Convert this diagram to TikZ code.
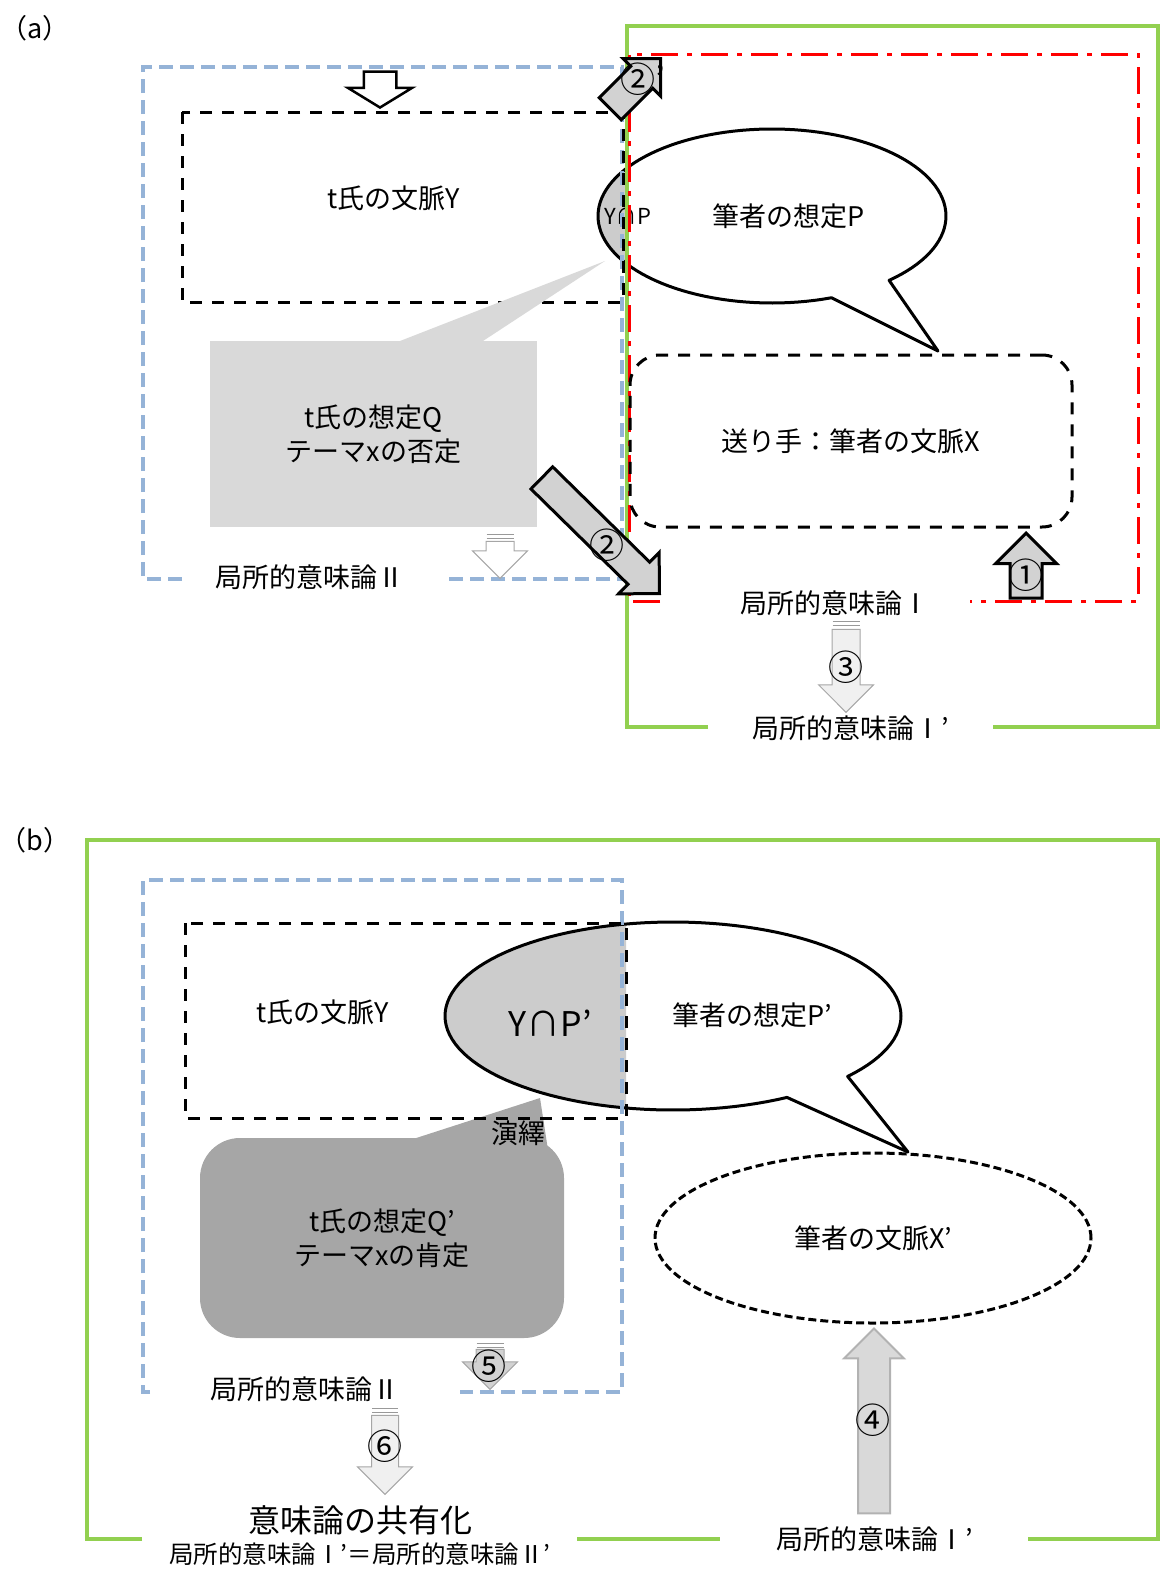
\documentclass[tikz,border=0pt]{standalone}
\usepackage{fontspec}
\setmainfont{Noto Sans CJK JP}
\usetikzlibrary{shapes, arrows}
\definecolor{lgreen}{HTML}{92D050}
\definecolor{lblue}{HTML}{95B3D7}
\definecolor{lgray}{HTML}{D9D9D9}
\definecolor{mgray}{HTML}{A6A6A6}
\tikzset{
  txt/.style={font=\fontsize{27}{34}\selectfont, inner sep=0pt, align=center},
  num/.style={font=\fontsize{35}{35}\selectfont, inner sep=0pt},
  greenframe/.style={draw=lgreen, line width=4pt},
  redframe/.style={draw=red, line width=3pt, dash pattern=on 27pt off 9pt on 5pt off 9pt},
  blueframe/.style={draw=lblue, line width=4.5pt, dash pattern=on 14pt off 7pt},
  ctxbox/.style={draw, line width=3pt, dash pattern=on 12pt off 10pt},
  bubble/.style={draw, line width=3pt, line join=round},
  qbox/.style={txt, fill=lgray, minimum width=327pt, minimum height=186pt},
  barrow/.style={single arrow, draw, inner xsep=0pt, single arrow head indent=0pt, anchor=tip},
  karrow/.style={barrow, fill=gray!35, line width=3pt},
  warrow/.style={barrow, fill=white, draw=gray!70, line width=1pt},
  parrow/.style={barrow, fill=gray!12, draw=gray!70, line width=1pt},
  stripe/.style={draw=gray!80, line width=1pt},
}
\begin{document}
\begin{tikzpicture}[x=1pt, y=-1pt]
\useasboundingbox (0,0) rectangle (1161,1569);

% ===== (a) =====
\node[txt] (lbla) at (35,28) {（a）};

% bubble P with the shared part
\fill[white] plot[domain=70:407.7, samples=120] ({772+174*cos(\x)},{216+87*sin(\x)}) -- (938,351) -- cycle;
\begin{scope}
  \clip (590,120) rectangle (626,320);
  \fill[gray!40] plot[domain=0:360, samples=120] ({772+174*cos(\x)},{216+87*sin(\x)}) -- cycle;
\end{scope}
\draw[bubble] plot[domain=70:407.7, samples=120] ({772+174*cos(\x)},{216+87*sin(\x)}) -- (938,351) -- cycle;
\node[txt] (assP) at (789,216) {筆者の想定P};
\node[txt, font=\fontsize{22}{26}\selectfont] (capa) at (628,216) {Y∩P};

% frames
\draw[greenframe] (708,727) -- (627,727) -- (627,26) -- (1158,26) -- (1158,727) -- (993,727);
\draw[redframe] (660,601) -- (629,601) -- (629,54) -- (1138,54) -- (1138,601) -- (970,601);
\draw[blueframe] (182,579) -- (143,579) -- (143,67) -- (622,67) -- (622,579) -- (443,579);
\draw[ctxbox] (182,112) rectangle (623,302);
\node[txt] (ctxYa) at (394,198) {t氏の文脈Y};

% callout Q
\fill[lgray] (400,341) -- (605,261) -- (483,341) -- cycle;
\node[qbox] (assQ) at (373.5,434) {t氏の想定Q\\テーマxの否定};

\node[txt, ctxbox, rounded corners=30pt, minimum width=442pt, minimum height=172pt] (ctxX) at (851,441) {送り手：筆者の文脈X};

\node[txt] (semIIa) at (310,577) {局所的意味論Ⅱ};
\node[txt] (semIa) at (835,603) {局所的意味論Ⅰ};
\node[txt] (semIpa) at (851,728) {局所的意味論Ⅰ’};

% arrows
\node[barrow, fill=white, line width=2.5pt, rotate=-90, minimum height=36pt, inner ysep=15pt,
      single arrow head extend=16pt, single arrow tip angle=117] (dn0) at (380,109) {};
\draw[stripe] (486.5,534) -- (513.5,534) (486.5,538) -- (513.5,538);
\node[warrow, rotate=-90, minimum height=37pt, inner ysep=13.5pt, single arrow head extend=13.5pt] (dnQ) at (500,579) {};
\node[karrow, rotate=-44.5, minimum height=165pt, inner ysep=14pt, single arrow head extend=13.5pt] (ar2) at (661,595) {};
\node[karrow, rotate=45, minimum height=71pt, inner ysep=14pt, single arrow head extend=11pt] (ar2p) at (662,57) {};
\node[karrow, rotate=90, minimum height=65pt, inner ysep=14.5pt, single arrow head extend=14.5pt] (ar1) at (1026,531) {};
\draw[stripe] (832.5,621) -- (859.5,621) (832.5,625) -- (859.5,625);
\node[parrow, rotate=-90, minimum height=83pt, inner ysep=13.5pt, single arrow head extend=13.5pt] (ar3) at (846,713) {};

\node[num] (n1) at (1026,575) {①};
\node[num] (n2) at (607,545) {②};
\node[num] (n2p) at (643,79) {②’};
\node[num] (n3) at (846,667) {③};

% ===== (b) =====
\node[txt] (lblb) at (35,840) {（b）};

\draw[greenframe] (142,1539) -- (87,1539) -- (87,840) -- (1158,840) -- (1158,1539) -- (1028,1539);
\draw[greenframe] (577,1539) -- (720,1539);

% callout Q'
\fill[mgray] (410,1140) -- (540,1098) -- (548,1150) -- cycle;
\node[qbox, fill=mgray, rounded corners=40pt, minimum width=364pt, minimum height=200pt] (assQp) at (382,1238) {t氏の想定Q’\\テーマxの肯定};
\node[txt] (deduc) at (518,1133) {演繹};

% bubble P'
\fill[white] plot[domain=60:400, samples=120] ({673+228*cos(\x)},{1016+94*sin(\x)}) -- (908,1152) -- cycle;
\begin{scope}
  \clip (430,900) rectangle (626,1130);
  \fill[gray!40] plot[domain=0:360, samples=120] ({673+228*cos(\x)},{1016+94*sin(\x)}) -- cycle;
\end{scope}
\draw[bubble] plot[domain=60:400, samples=120] ({673+228*cos(\x)},{1016+94*sin(\x)}) -- (908,1152) -- cycle;
\node[txt, font=\fontsize{34}{40}\selectfont] (capb) at (550,1023) {Y∩P’};
\node[txt] (assPp) at (752,1015) {筆者の想定P’};

\draw[blueframe] (150,1392) -- (143,1392) -- (143,880) -- (622,880) -- (622,1392) -- (460,1392);
\draw[ctxbox] (185,923) rectangle (626,1118);
\node[txt] (ctxYb) at (323,1012) {t氏の文脈Y};

\node[txt, draw, line width=3pt, dash pattern=on 8pt off 4pt, ellipse, minimum width=436pt, minimum height=170pt] (ctxXp) at (873,1238) {筆者の文脈X’};

\node[txt] (semIIb) at (305,1389) {局所的意味論Ⅱ};
\node[txt] (semIpb) at (875,1539) {局所的意味論Ⅰ’};
\node[txt, font=\fontsize{32}{36}\selectfont] (share) at (360,1520) {意味論の共有化};
\node[txt, font=\fontsize{24.5}{28}\selectfont] (equal) at (360,1554) {局所的意味論Ⅰ’＝局所的意味論Ⅱ’};

% arrows
\node[barrow, fill=lgray, draw=gray!60, line width=2pt, rotate=90, minimum height=185pt, inner ysep=15pt, single arrow head extend=14pt] (ar4) at (874,1327) {};
\draw[stripe] (476.5,1343) -- (503.5,1343) (476.5,1347) -- (503.5,1347);
\node[barrow, fill=gray!35, draw=gray!70, line width=1pt, rotate=-90, minimum height=40pt, inner ysep=13.5pt, single arrow head extend=13.5pt] (ar5) at (490,1390) {};
\draw[stripe] (372,1408) -- (398,1408) (372,1412) -- (398,1412);
\node[parrow, rotate=-90, minimum height=79pt, inner ysep=13pt, single arrow head extend=14pt] (ar6) at (385,1495) {};

\node[num] (n4) at (873,1420) {④};
\node[num] (n5) at (489,1366) {⑤};
\node[num] (n6) at (385,1446) {⑥};
\end{tikzpicture}
\end{document}
